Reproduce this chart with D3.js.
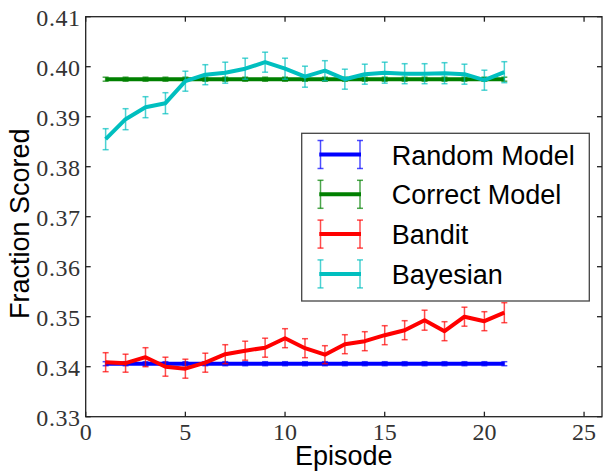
<!DOCTYPE html>
<script src="https://d3js.org/d3.v7.min.js"></script>
<html>
<body style="margin:0;background:#fff">
<svg id="viz" width="603" height="471"></svg>
<script>
var width = 603;
var height = 471;

var episodes = [1,2,3,4,5,6,7,8,9,10,11,12,13,14,15,16,17,18,19,20,21];

var randomModel = [0.3406,0.3406,0.3406,0.3406,0.3406,0.3406,0.3406,0.3406,0.3406,0.3406,0.3406,
                   0.3406,0.3406,0.3406,0.3406,0.3406,0.3406,0.3406,0.3406,0.3406,0.3406];
var randomErr   = [0.0004,0.0004,0.0004,0.0004,0.0004,0.0004,0.0004,0.0004,0.0004,0.0004,0.0004,
                   0.0004,0.0004,0.0004,0.0004,0.0004,0.0004,0.0004,0.0004,0.0004,0.0004];
var correctModel = [0.3975,0.3975,0.3975,0.3975,0.3975,0.3975,0.3975,0.3975,0.3975,0.3975,0.3975,
                    0.3975,0.3975,0.3975,0.3975,0.3975,0.3975,0.3975,0.3975,0.3975,0.3975];
var correctErr   = [0.0004,0.0004,0.0004,0.0004,0.0004,0.0004,0.0004,0.0004,0.0004,0.0004,0.0004,
                    0.0004,0.0004,0.0004,0.0004,0.0004,0.0004,0.0004,0.0004,0.0004,0.0004];
var bandit    = [0.3409,0.3407,0.3419,0.3400,0.3396,0.3408,0.3425,0.3432,0.3438,0.3457,0.3437,
                 0.3424,0.3445,0.3451,0.3463,0.3473,0.3493,0.3471,0.3500,0.3491,0.3508];
var banditErr = [0.0019,0.0018,0.0019,0.0019,0.0019,0.0019,0.0019,0.0019,0.0019,0.0019,0.0019,
                 0.0018,0.0019,0.0019,0.0019,0.0019,0.0020,0.0019,0.0019,0.0019,0.0020];
var bayesian    = [0.3855,0.3895,0.3919,0.3927,0.3971,0.3984,0.3988,0.3996,0.4009,0.3996,0.3980,
                   0.3992,0.3975,0.3985,0.3988,0.3986,0.3986,0.3987,0.3985,0.3973,0.3989];
var bayesianErr = [0.0021,0.0021,0.0021,0.0021,0.0020,0.0020,0.0021,0.0021,0.0020,0.0021,0.0021,
                   0.0020,0.0020,0.0020,0.0021,0.0020,0.0020,0.0021,0.0020,0.0020,0.0021];

var seriesNames = ["Random Model", "Correct Model", "Bandit", "Bayesian"];
var seriesColors = ["#0000ff", "#008000", "#ff0000", "#00bfbf"];
var xTicks = [0,5,10,15,20,25];
var yTicks = [0.33,0.34,0.35,0.36,0.37,0.38,0.39,0.40,0.41];

var series = [
  {name: seriesNames[0], color: seriesColors[0], y: randomModel, e: randomErr},
  {name: seriesNames[1], color: seriesColors[1], y: correctModel, e: correctErr},
  {name: seriesNames[2], color: seriesColors[2], y: bandit, e: banditErr},
  {name: seriesNames[3], color: seriesColors[3], y: bayesian, e: bayesianErr}
];

var pLeft = 85.7, pRight = 602, pTop = 16.7, pBottom = 416.7;
var x = d3.scaleLinear().domain([0, 25.9]).range([pLeft, pRight]);
var y = d3.scaleLinear().domain([0.33, 0.41]).range([pBottom, pTop]);

var svg = d3.select("#viz");
var tickFont = "'Liberation Serif', serif";
var labelFont = "'Liberation Sans', Arial, sans-serif";

// series
series.forEach(function(s) {
  var g = svg.append("g");
  var pts = episodes.map(function(ep, i) { return {x: ep, y: s.y[i], e: s.e[i]}; });
  var eb = g.append("g").attr("stroke", s.color).attr("stroke-opacity", 0.7).attr("stroke-width", 1.5);
  pts.forEach(function(p) {
    var cx = x(p.x), y0 = y(p.y - p.e), y1 = y(p.y + p.e);
    eb.append("line").attr("x1", cx).attr("x2", cx).attr("y1", y0).attr("y2", y1);
    eb.append("line").attr("x1", cx - 3).attr("x2", cx + 3).attr("y1", y0).attr("y2", y0);
    eb.append("line").attr("x1", cx - 3).attr("x2", cx + 3).attr("y1", y1).attr("y2", y1);
  });
  g.append("path")
    .datum(pts)
    .attr("fill", "none")
    .attr("stroke", s.color)
    .attr("stroke-width", 4)
    .attr("stroke-linejoin", "round")
    .attr("d", d3.line().x(function(d) { return x(d.x); }).y(function(d) { return y(d.y); }));
});

// axes (ticks inward on all sides)
var axisG = svg.append("g");
axisG.append("rect").attr("x", pLeft).attr("y", pTop).attr("width", pRight - pLeft).attr("height", pBottom - pTop)
  .attr("fill", "none").attr("stroke", "#222").attr("stroke-width", 1.3);

xTicks.forEach(function(t) {
  axisG.append("line").attr("x1", x(t)).attr("x2", x(t)).attr("y1", pBottom).attr("y2", pBottom - 5).attr("stroke", "#222").attr("stroke-width", 1.3);
  axisG.append("line").attr("x1", x(t)).attr("x2", x(t)).attr("y1", pTop).attr("y2", pTop + 5).attr("stroke", "#222").attr("stroke-width", 1.3);
  axisG.append("text").attr("x", x(t)).attr("y", pBottom + 23.5).attr("text-anchor", "middle")
    .attr("font-family", tickFont).attr("font-size", 24).attr("fill", "#333").text(t);
});
yTicks.forEach(function(t) {
  axisG.append("line").attr("x1", pLeft).attr("x2", pLeft + 5).attr("y1", y(t)).attr("y2", y(t)).attr("stroke", "#222").attr("stroke-width", 1.3);
  axisG.append("line").attr("x1", pRight).attr("x2", pRight - 5).attr("y1", y(t)).attr("y2", y(t)).attr("stroke", "#222").attr("stroke-width", 1.3);
  axisG.append("text").attr("x", pLeft - 5).attr("y", y(t) + 9.5).attr("text-anchor", "end")
    .attr("font-family", tickFont).attr("font-size", 24).attr("letter-spacing", 0.6).attr("fill", "#333").text(d3.format(".2f")(t));
});

svg.append("text").attr("x", (pLeft + pRight) / 2).attr("y", 465).attr("text-anchor", "middle")
  .attr("font-family", labelFont).attr("font-size", 27).attr("fill", "#000").text("Episode");
svg.append("text").attr("transform", "translate(28.5," + ((pTop + pBottom) / 2 + 7) + ") rotate(-90)")
  .attr("text-anchor", "middle")
  .attr("font-family", labelFont).attr("font-size", 27).attr("fill", "#000").text("Fraction Scored");

// legend
var leg = svg.append("g");
leg.append("rect").attr("x", 301.7).attr("y", 133.3).attr("width", 287.6).attr("height", 167.7)
  .attr("fill", "#fff").attr("stroke", "#444").attr("stroke-width", 1.3);
series.forEach(function(s, i) {
  var cy = 154.5 + i * 39.8;
  var row = leg.append("g");
  var ebl = row.append("g").attr("stroke", s.color).attr("stroke-opacity", 0.7).attr("stroke-width", 1.5);
  [320.5, 360].forEach(function(cx) {
    ebl.append("line").attr("x1", cx).attr("x2", cx).attr("y1", cy - 14).attr("y2", cy + 14);
    ebl.append("line").attr("x1", cx - 3).attr("x2", cx + 3).attr("y1", cy - 14).attr("y2", cy - 14);
    ebl.append("line").attr("x1", cx - 3).attr("x2", cx + 3).attr("y1", cy + 14).attr("y2", cy + 14);
  });
  row.append("line").attr("x1", 319.3).attr("x2", 361).attr("y1", cy).attr("y2", cy)
    .attr("stroke", s.color).attr("stroke-width", 4);
  row.append("text").attr("x", 391.7).attr("y", cy + 10).attr("font-family", labelFont)
    .attr("font-size", 27).attr("fill", "#000").text(s.name);
});
</script>
</body>
</html>
